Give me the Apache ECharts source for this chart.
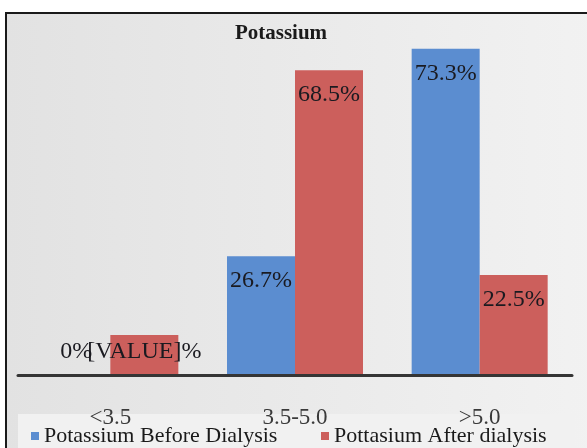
<!DOCTYPE html>
<html>
<head>
<meta charset="utf-8">
<script src="https://cdn.jsdelivr.net/npm/echarts@6/dist/echarts.min.js"></script>
<style>html,body{margin:0;padding:0;background:#fff}#c{width:587px;height:448px}</style>
</head>
<body>
<div id="c"></div>
<script>
const categories = ['<3.5', '3.5-5.0', '>5.0'];
const beforeValues = [0, 26.7, 73.3];
const afterValues = [9.0, 68.5, 22.5];
const beforeLabels = ['0%', '26.7%', '73.3%'];
const afterLabels = ['[VALUE]%', '68.5%', '22.5%'];
const seriesNames = ['Potassium Before Dialysis', 'Pottasium After dialysis'];

const FONT = "'Liberation Serif', 'Times New Roman', serif";
const chart = echarts.init(document.getElementById('c'), null, {renderer: 'canvas'});

const labelBase = {show: true, position: 'insideTop', distance: 13, fontFamily: FONT, fontSize: 24, color: '#1a1a20'};

const beforeData = beforeValues.map((v, i) => {
  const item = {value: v};
  if (v === 0) item.label = {position: 'top', distance: 11};
  return item;
});
const afterData = afterValues.map((v, i) => {
  const item = {value: v};
  if (i === 0) item.label = {position: 'insideTop', distance: 5};
  return item;
});

chart.setOption({
  animation: false,
  backgroundColor: '#ffffff',
  graphic: [
    {type: 'rect', z: -10, silent: true,
     shape: {x: 6, y: 13, width: 600, height: 460},
     style: {fill: {type: 'linear', x: 0, y: 0, x2: 1, y2: 0,
       colorStops: [{offset: 0, color: '#e2e2e2'}, {offset: 1, color: '#f2f2f2'}]},
       stroke: '#1a1a1a', lineWidth: 2}},
    {type: 'rect', z: -9, silent: true,
     shape: {x: 18, y: 414, width: 557, height: 40},
     style: {fill: '#f1f1f1'}}
  ],
  title: {
    text: 'Potassium', left: 276, top: 18, textAlign: 'center',
    textStyle: {fontFamily: FONT, fontSize: 21, fontWeight: 'bold', color: '#1a1a1a'}
  },
  legend: [
    {data: [seriesNames[0]], left: 31, top: 425, padding: 0, icon: 'rect', itemWidth: 8, itemHeight: 8,
     textStyle: {fontFamily: FONT, fontSize: 22, color: '#1a1a1a'}},
    {data: [seriesNames[1]], left: 321, top: 425, padding: 0, icon: 'rect', itemWidth: 8, itemHeight: 8,
     textStyle: {fontFamily: FONT, fontSize: 22, color: '#1a1a1a'}}
  ],
  grid: {left: 18, right: 15, top: 19, bottom: 73, containLabel: false},
  xAxis: {
    type: 'category', data: categories, z: 5,
    axisLine: {lineStyle: {color: '#353535', width: 3}},
    axisTick: {show: false},
    axisLabel: {fontFamily: FONT, fontSize: 23, color: '#3a3a3a', margin: 31}
  },
  yAxis: {type: 'value', min: 0, max: 80, show: false, splitLine: {show: false}},
  series: [
    {name: seriesNames[0], type: 'bar', data: beforeData, barWidth: 68, barGap: '0%',
     itemStyle: {color: '#5b8dd0'},
     label: Object.assign({}, labelBase, {formatter: p => beforeLabels[p.dataIndex]})},
    {name: seriesNames[1], type: 'bar', data: afterData, barWidth: 68, barGap: '0%',
     itemStyle: {color: '#cc5f5c'},
     label: Object.assign({}, labelBase, {formatter: p => afterLabels[p.dataIndex]})}
  ]
});
</script>
</body>
</html>
